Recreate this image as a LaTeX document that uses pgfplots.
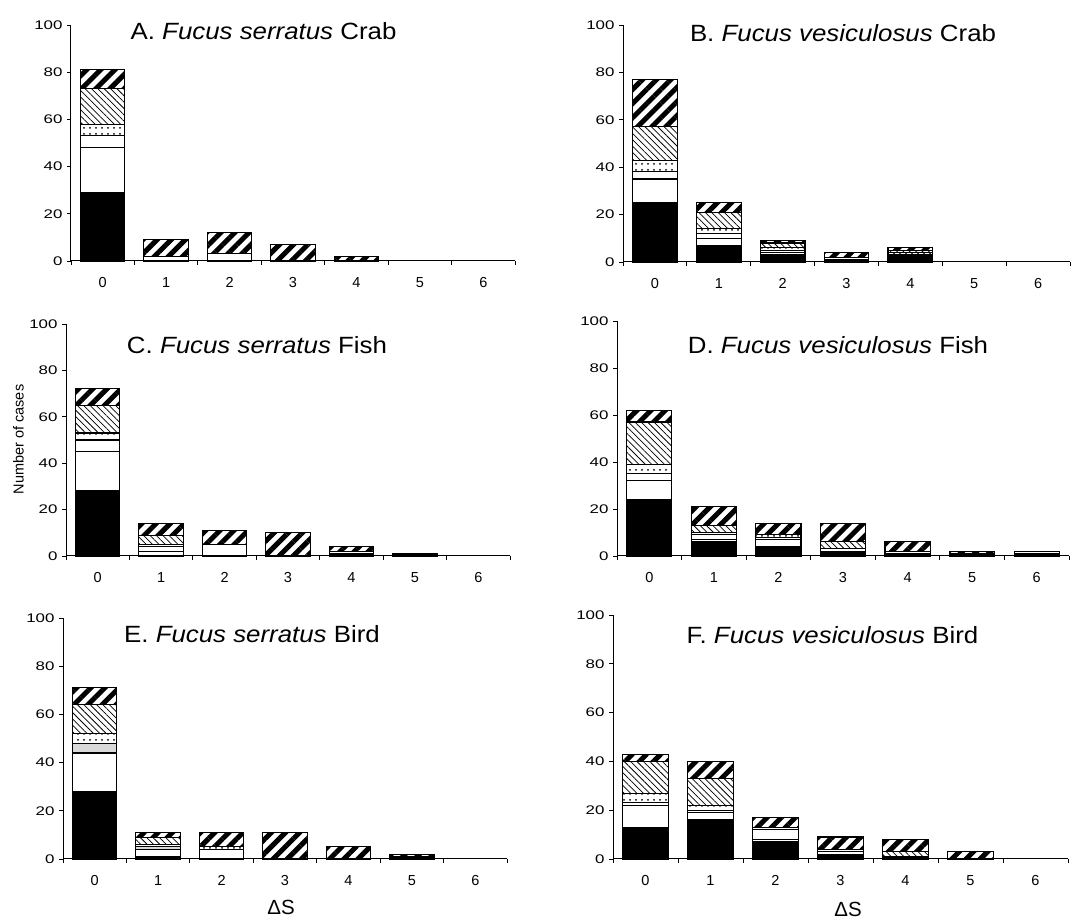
\documentclass[border=0pt]{standalone}
\usepackage{fontspec}
\setmainfont{Liberation Sans}
\newfontfamily\titlefont[FakeStretch=1.1]{Liberation Sans}
\newfontfamily\yfont[FakeStretch=1.35]{Liberation Sans}
\usepackage{pgfplots}
\usepackage{pgfplotstable}
\pgfplotsset{compat=1.18}
\usetikzlibrary{patterns.meta}

% Number of cases per Delta S class, split into six stacked categories
% columns: x  s1 (black)  s2 (open)  s3 (open/grey)  s4 (dotted)  s5 (fine hatch)  s6 (bold stripes)
\pgfplotstableread{
x s1 s2 s3 s4 s5 s6
0 29 19 5 5 15 8
1 0 2 0 0 0 7
2 0 3 0 0 0 9
3 0 0 0 0 0 7
4 0 0 0 0 0 2
5 0 0 0 0 0 0
6 0 0 0 0 0 0
}\tabA
\pgfplotstableread{
x s1 s2 s3 s4 s5 s6
0 25 10 3 5 14 20
1 7 3 2 2 7 4
2 3 1 1 1 2 1
3 1 0 0 1 0 2
4 3 0 0 1 1 1
5 0 0 0 0 0 0
6 0 0 0 0 0 0
}\tabB
\pgfplotstableread{
x s1 s2 s3 s4 s5 s6
0 28 17 5 3 12 7
1 0 2 2 1 4 5
2 0 5 0 0 0 6
3 0 0 0 0 0 10
4 1 0 0 1 0 2
5 1 0 0 0 0 0
6 0 0 0 0 0 0
}\tabC
\pgfplotstableread{
x s1 s2 s3 s4 s5 s6
0 24 8 3 4 18 5
1 6 1 2 1 3 8
2 4 3 1 1 0 5
3 2 0 0 1 3 8
4 1 0 0 1 0 4
5 1 0 0 0 0 1
6 1 0 0 1 0 0
}\tabD
\pgfplotstableread{
x s1 s2 s3 s4 s5 s6
0 28 16 4 4 12 7
1 1 3 1 1 3 2
2 0 4 0 1 0 6
3 0 0 0 0 0 11
4 0 0 0 0 0 5
5 1 0 0 0 0 1
6 0 0 0 0 0 0
}\tabE
\pgfplotstableread{
x s1 s2 s3 s4 s5 s6
0 13 9 1 4 13 3
1 16 3 1 2 11 7
2 7 1 4 1 0 4
3 2 1 0 1 0 5
4 1 0 0 0 2 5
5 0 0 0 0 0 3
6 0 0 0 0 0 0
}\tabF

\pgfplotsset{
  panel/.style={
    scale only axis, anchor=south west, clip=false,
    xmin=-0.5, xmax=6.5, ymin=0, ymax=100,
    axis lines*=left,
    axis line style={line width=1pt, black},
    ybar stacked, bar width=0.7,
    every axis plot/.append style={draw=black, line width=1.1pt},
    tick align=outside, major tick length=4pt,
    every tick/.style={black, line width=0.9pt},
    ytick={0,20,40,60,80,100},
    yticklabels={0,20,40,60,80,100},
    yticklabel style={font=\yfont\fontsize{12.5}{13}\selectfont, xshift=-1pt},
    /pgf/number format/assume math mode=true,
    xtick={-0.5,0.5,1.5,2.5,3.5,4.5,5.5,6.5},
    xticklabels={},
    extra x ticks={0,1,2,3,4,5,6},
    extra x tick labels={0,1,2,3,4,5,6},
    extra x tick style={major tick length=0pt,
      xticklabel style={font=\fontsize{14.5}{15}\selectfont, yshift=-13pt}},
  },
}

% six stacked categories; optional argument is the fill of the third one
\newcommand\stackbars[2][white]{%
  \addplot[fill=black] table[x=x,y=s1]{#2};
  \addplot[fill=white] table[x=x,y=s2]{#2};
  \addplot[fill=#1] table[x=x,y=s3]{#2};
  \addplot[pattern={Dots[distance=6pt, radius=1pt]}] table[x=x,y=s4]{#2};
  \addplot[pattern={Lines[angle=-45, distance=4.5pt, line width=0.75pt]}] table[x=x,y=s5]{#2};
  \addplot[pattern={Lines[angle=45, distance=10pt, line width=5pt]}] table[x=x,y=s6]{#2};
}

\newcommand\ptitle[3]{{\titlefont\fontsize{23.5}{28}\selectfont #1 \textit{#2} #3}}

\begin{document}
\begin{tikzpicture}
\path[use as bounding box] (0pt,0pt) rectangle (1072pt,920pt);

\begin{axis}[panel, at={(71pt,659pt)}, width=444pt, height=236pt]
  \stackbars{\tabA}
\end{axis}
\begin{axis}[panel, at={(623pt,658pt)}, width=447pt, height=237pt]
  \stackbars{\tabB}
\end{axis}
\begin{axis}[panel, at={(66pt,364pt)}, width=444pt, height=232pt]
  \stackbars{\tabC}
\end{axis}
\begin{axis}[panel, at={(617pt,364pt)}, width=452pt, height=235pt]
  \stackbars{\tabD}
\end{axis}
\begin{axis}[panel, at={(63pt,61pt)}, width=444pt, height=241pt]
  \stackbars[gray!30]{\tabE}
\end{axis}
\begin{axis}[panel, at={(613pt,61pt)}, width=455pt, height=244pt]
  \stackbars{\tabF}
\end{axis}

\node[anchor=base] at (263.5pt,880pt) {\ptitle{A.}{Fucus serratus}{Crab}};
\node[anchor=base] at (843pt,878pt) {\ptitle{B.}{Fucus vesiculosus}{Crab}};
\node[anchor=base] at (257pt,566.7pt) {\ptitle{C.}{Fucus serratus}{Fish}};
\node[anchor=base] at (838pt,566.7pt) {\ptitle{D.}{Fucus vesiculosus}{Fish}};
\node[anchor=base] at (252pt,277.7pt) {\ptitle{E.}{Fucus serratus}{Bird}};
\node[anchor=base] at (832.5pt,276.7pt) {\ptitle{F.}{Fucus vesiculosus}{Bird}};

\node[rotate=90] at (18.5pt,480.5pt) {\fontsize{14.5}{16}\selectfont Number of cases};
\node[anchor=base, inner sep=0pt] at (281pt,5pt) {\fontsize{20.5}{24}\selectfont ΔS};
\node[anchor=base, inner sep=0pt] at (848pt,3pt) {\fontsize{20.5}{24}\selectfont ΔS};
\end{tikzpicture}
\end{document}
